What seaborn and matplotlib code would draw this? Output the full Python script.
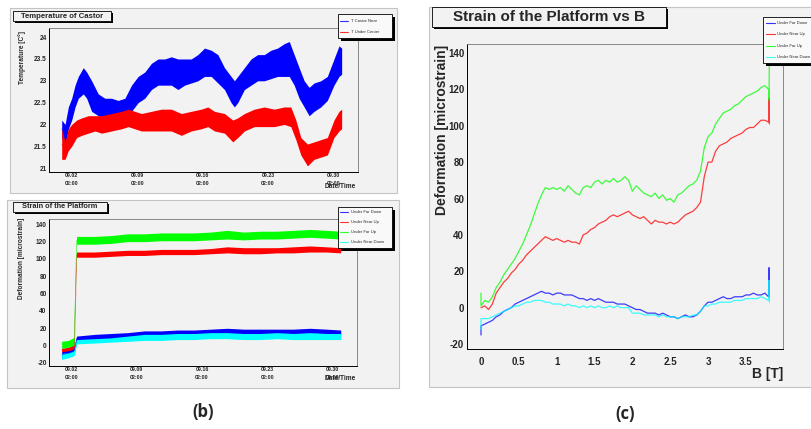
import numpy as np
import pandas as pd
import matplotlib
matplotlib.use("Agg")
import matplotlib.pyplot as plt
import seaborn as sns
from matplotlib.patches import Rectangle
from matplotlib.lines import Line2D
from matplotlib.ticker import MultipleLocator, FuncFormatter

# ---------------- data: temperature (days after 09.02 02:00) ----------------
t_days = [-1.07, -0.71, -0.36, 0.00, 0.36, 0.71, 1.24, 1.60, 2.13, 2.84, 3.55, 4.26,
          4.98, 5.69, 6.40, 7.11, 7.82, 8.53, 9.24, 9.95, 10.66, 11.37, 12.08, 12.79,
          13.50, 14.21, 14.93, 15.64, 16.35, 17.06, 17.41, 17.77, 18.48, 19.19, 19.90,
          20.61, 21.32, 22.03, 22.74, 23.28, 23.81, 24.34, 24.88, 25.41, 25.94, 26.65,
          27.36, 28.07, 28.61, 28.89]
castor_near_hi = [22.1, 22.0, 22.4, 22.6, 22.9, 23.1, 23.3, 23.2, 23.0, 22.7, 22.6, 22.6,
                  22.55, 22.6, 22.9, 23.1, 23.2, 23.4, 23.5, 23.5, 23.55, 23.5, 23.5, 23.5,
                  23.6, 23.75, 23.7, 23.6, 23.3, 23.1, 23.0, 23.1, 23.3, 23.5, 23.6,
                  23.6, 23.7, 23.75, 23.85, 23.9, 23.6, 23.3, 23.0, 22.85, 22.95, 23.0,
                  23.1, 23.5, 23.8, 23.75]
castor_near_lo = [21.7, 21.5, 21.9, 22.1, 22.4, 22.6, 22.7, 22.6, 22.3, 22.2, 22.1, 22.1,
                  22.05, 22.1, 22.3, 22.5, 22.6, 22.8, 22.9, 22.9, 22.9, 22.8, 22.9, 22.95,
                  23.0, 23.1, 23.1, 22.95, 22.8, 22.5, 22.4, 22.5, 22.8, 22.9, 23.0,
                  23.0, 23.05, 23.1, 23.1, 23.1, 22.9, 22.6, 22.4, 22.2, 22.3, 22.4,
                  22.55, 22.9, 23.1, 23.15]

r_days = [-1.07, -0.71, -0.36, 0.00, 0.53, 1.07, 1.78, 2.49, 3.20, 4.26, 5.33, 6.04,
          6.75, 7.46, 8.53, 9.60, 10.66, 11.73, 12.79, 13.86, 14.57, 15.28, 16.35,
          17.24, 17.77, 18.48, 19.55, 20.61, 21.68, 22.74, 23.45, 23.99, 24.52, 25.23,
          25.94, 26.65, 27.36, 28.07, 28.61, 28.89]
under_center_hi = [21.9, 21.6, 21.9, 22.0, 22.1, 22.15, 22.2, 22.2, 22.2, 22.25, 22.3, 22.35,
                   22.3, 22.25, 22.3, 22.35, 22.35, 22.25, 22.3, 22.35, 22.4, 22.3, 22.25,
                   22.1, 22.15, 22.25, 22.35, 22.4, 22.35, 22.4, 22.4, 22.1, 21.7, 21.55,
                   21.6, 21.65, 21.7, 22.1, 22.3, 22.35]
under_center_lo = [21.2, 21.2, 21.4, 21.5, 21.7, 21.75, 21.8, 21.85, 21.8, 21.85, 21.9, 21.95,
                   21.9, 21.85, 21.85, 21.85, 21.85, 21.75, 21.85, 21.9, 21.95, 21.85, 21.8,
                   21.6, 21.7, 21.85, 21.95, 21.95, 21.95, 22.0, 21.95, 21.65, 21.3, 21.05,
                   21.2, 21.25, 21.3, 21.7, 21.85, 21.9]

# ---------------- data: strain vs time ----------------
s_days = [-1.07, -0.36, 0.18, 0.28, 0.53, 2.49, 4.26, 6.04, 7.82, 9.60, 11.37, 13.15,
          14.93, 16.70, 18.48, 20.26, 22.03, 23.81, 25.59, 27.36, 28.89]
far_down_hi = [-6, -5, -3, -2, 11, 13, 14, 15, 17, 17, 18, 18, 19, 20, 19, 19, 19, 19, 20, 19, 18]
far_down_lo = [-15, -13, -11, -10, 5, 7, 8, 9, 11, 12, 12, 12, 13, 14, 13, 13, 13, 13, 14, 13, 12]
near_up_hi = [-3, -2, 1, 2, 108, 108, 109, 110, 110, 111, 111, 111, 112, 114, 113, 113, 113, 114, 115, 114, 113]
near_up_lo = [-7, -6, -4, -3, 102, 102, 103, 104, 104, 105, 105, 105, 106, 107, 106, 106, 107, 107, 108, 108, 107]
far_up_hi = [5, 6, 9, 10, 126, 126, 127, 129, 129, 130, 130, 130, 131, 133, 131, 132, 132, 133, 134, 133, 132]
far_up_lo = [-3, -2, 0, 1, 117, 117, 118, 120, 120, 121, 121, 121, 122, 123, 122, 123, 123, 124, 125, 124, 123]
near_down_hi = [-9, -8, -6, -5, 7, 8, 9, 11, 13, 13, 14, 14, 15, 15, 14, 14, 15, 14, 15, 14, 14]
near_down_lo = [-16, -14, -12, -11, 2, 3, 4, 5, 6, 6, 7, 7, 8, 8, 7, 7, 8, 7, 7, 7, 7]

date_ticks = [0, 7, 14, 21, 28]
date_labels = ["09.02\n02:00", "09.09\n02:00", "09.16\n02:00", "09.23\n02:00", "09.30\n02:00"]

# ---------------- data: strain vs B ----------------
B_T = [0.00, 0.00, 0.05, 0.10, 0.15, 0.20, 0.25, 0.30, 0.35, 0.40, 0.45,
       0.50, 0.55, 0.60, 0.65, 0.70, 0.75, 0.80, 0.85, 0.90, 0.95,
       1.00, 1.05, 1.10, 1.15, 1.20, 1.25, 1.30, 1.35, 1.40, 1.45,
       1.50, 1.55, 1.60, 1.65, 1.70, 1.75, 1.80, 1.85, 1.90, 1.95,
       2.00, 2.05, 2.10, 2.15, 2.20, 2.25, 2.30, 2.35, 2.40, 2.45,
       2.50, 2.55, 2.60, 2.65, 2.70, 2.75, 2.80, 2.85, 2.90, 2.95,
       3.00, 3.05, 3.10, 3.15, 3.20, 3.25, 3.30, 3.35, 3.40, 3.45,
       3.50, 3.55, 3.60, 3.65, 3.70, 3.75, 3.80, 3.805, 3.81]
b_far_down = [-15, -10, -9, -8, -7, -5, -4, -2, -1, 0, 2,
              3, 4, 5, 6, 7, 8, 9, 8, 8, 7,
              8, 8, 7, 7, 7, 6, 5, 5, 4, 5,
              4, 5, 4, 3, 3, 3, 2, 2, 2, 1,
              0, -1, -1, -2, -3, -3, -3, -4, -3, -4,
              -5, -5, -6, -5, -4, -5, -5, -4, -2, 1,
              3, 3, 4, 5, 6, 5, 5, 6, 6, 6,
              7, 7, 8, 7, 7, 8, 6, 22, 6]
b_near_up = [0, 0, 1, -1, 2, 8, 11, 14, 16, 19, 21,
             24, 26, 29, 31, 33, 35, 37, 39, 38, 37,
             38, 37, 36, 37, 36, 36, 35, 40, 41, 43,
             44, 46, 47, 48, 50, 51, 50, 51, 52, 53,
             51, 50, 49, 50, 48, 46, 48, 47, 47, 46,
             47, 46, 47, 49, 51, 52, 53, 55, 58, 72,
             80, 80, 86, 89, 90, 91, 93, 94, 95, 96,
             98, 99, 99, 101, 103, 103, 102, 115, 101]
b_far_up = [8, 1, 4, 3, 6, 11, 14, 18, 21, 24, 27,
            31, 35, 40, 45, 51, 57, 62, 66, 65, 66,
            65, 66, 64, 67, 65, 63, 62, 66, 67, 66,
            69, 70, 68, 70, 69, 71, 69, 70, 72, 70,
            64, 67, 65, 63, 62, 61, 63, 60, 62, 59,
            60, 58, 62, 63, 65, 67, 68, 70, 75, 88,
            94, 96, 101, 104, 107, 108, 109, 111, 112, 114,
            116, 117, 118, 119, 121, 122, 120, 114, 138]
b_near_down = [-12, -6, -6, -6, -5, -4, -3, -2, -1, 0, 1,
               1, 2, 3, 3, 4, 4, 4, 3, 3, 2,
               2, 2, 1, 2, 1, 1, 0, 1, 0, 1,
               0, 1, 0, 0, 1, 0, 1, 0, 0, 0,
               -3, -3, -3, -4, -4, -4, -4, -5, -4, -5,
               -5, -5, -6, -5, -5, -5, -4, -4, -2, 1,
               1, 2, 2, 3, 3, 3, 3, 4, 4, 4,
               5, 5, 5, 5, 6, 5, 4, 15, 3]

strain_labels = ["Under Far Down", "Under Near Up", "Under Far Up", "Under Near Down"]
strain_colors = ["#0000ff", "#ff0000", "#00ff00", "#00ffff"]
temp_labels = ["T Castor Near", "T Under Center"]
temp_colors = ["#0000ff", "#ff0000"]

# ---------------- style ----------------
sns.set_theme(style="white")
plt.rcParams["font.family"] = ["Liberation Sans", "DejaVu Sans"]
plt.rcParams["font.weight"] = "bold"
plt.rcParams["axes.unicode_minus"] = False

BG = "#f2f2f2"
W, H = 811, 429
fig = plt.figure(figsize=(W / 100, H / 100), dpi=100)
fig.patch.set_facecolor("white")


def fx(x):
    return x / W


def fy(y):
    return 1 - y / H


def rect(x0, y0, x1, y1, fc, ec, lw=0.8, z=-5):
    r = Rectangle((fx(x0), fy(y1)), (x1 - x0) / W, (y1 - y0) / H,
                  transform=fig.transFigure, facecolor=fc, edgecolor=ec,
                  linewidth=lw, zorder=z)
    fig.add_artist(r)


def title_box(x0, y0, x1, y1, text, fs, sh=2):
    rect(x0 + sh, y0 + sh, x1 + sh, y1 + sh, "black", "black", lw=0, z=5)
    rect(x0, y0, x1, y1, BG, "black", lw=0.6, z=6)
    fig.text(fx((x0 + x1) / 2), fy((y0 + y1) / 2), text, ha="center", va="center",
             fontsize=fs, fontweight="bold", zorder=7)


def root_legend(x0, y0, x1, y1, colors, labels, ys, lx0, lx1, tx, fs):
    rect(x0 + 3, y0 + 3, x1 + 3, y1 + 3, "black", "black", lw=0, z=8)
    rect(x0, y0, x1, y1, "#f9f9f9", "black", lw=0.6, z=9)
    for c, l, y in zip(colors, labels, ys):
        fig.add_artist(Line2D([fx(lx0), fx(lx1)], [fy(y), fy(y)], transform=fig.transFigure,
                              color=c, lw=0.8, alpha=0.8, zorder=10))
        fig.text(fx(tx), fy(y), l, fontsize=fs, ha="left", va="center",
                 fontweight="normal", zorder=10)


def band(ax, days, hi, lo, color):
    df = pd.DataFrame({"day": list(days) + list(days), "v": list(hi) + list(lo)})
    sns.lineplot(data=df, x="day", y="v", ax=ax, color=color, estimator="mean",
                 errorbar=("pi", 100), err_kws={"alpha": 1.0, "linewidth": 0},
                 linewidth=0.3)


def style_axes(ax, xlim, ylim):
    ax.set_facecolor(BG)
    ax.set_xlim(*xlim)
    ax.set_ylim(*ylim)
    ax.set_xlabel("")
    ax.set_ylabel("")
    for s in ["top", "right"]:
        ax.spines[s].set_color("#777777")
        ax.spines[s].set_linewidth(0.6)
    for s in ["left", "bottom"]:
        ax.spines[s].set_color("black")
        ax.spines[s].set_linewidth(0.7)


fmt = FuncFormatter(lambda v, p: f"{v:g}")

# ---------------- outer panels ----------------
rect(10, 8, 397, 193, BG, "#c4c4c4")
rect(7, 200, 399, 388, BG, "#c4c4c4")
rect(429, 7, 815, 387, BG, "#c4c4c4")

# ---------------- (b) top: temperature ----------------
ax1 = fig.add_axes([fx(49), fy(172), 309 / W, 144 / H])
band(ax1, t_days, castor_near_hi, castor_near_lo, temp_colors[0])
band(ax1, r_days, under_center_hi, under_center_lo, temp_colors[1])
style_axes(ax1, (-2.43, 30.64), (20.91, 24.21))
ax1.yaxis.set_major_locator(MultipleLocator(0.5))
ax1.yaxis.set_minor_locator(MultipleLocator(0.1))
ax1.yaxis.set_major_formatter(fmt)
ax1.set_xticks(date_ticks, date_labels, fontsize=3.8, fontweight="bold", linespacing=1.7)
ax1.xaxis.set_minor_locator(MultipleLocator(1))
ax1.tick_params(axis="y", which="major", direction="in", length=5.5, width=0.5, labelsize=4.7, pad=1.7)
ax1.tick_params(axis="y", which="minor", direction="in", length=2.8, width=0.4)
ax1.tick_params(axis="x", which="major", direction="in", length=3, width=0.5, pad=0.8)
ax1.tick_params(axis="x", which="minor", direction="in", length=1.5, width=0.4)

fig.text(fx(22), fy(31), "Temperature [C°]", rotation=90, ha="center", va="top",
         fontsize=4.7, fontweight="bold")
fig.text(fx(356), fy(186), "Date/Time", ha="right", va="center", fontsize=4.7, fontweight="bold")
title_box(13, 11, 111, 21, "Temperature of Castor", 5.6)
root_legend(338, 14, 392, 38, temp_colors, temp_labels, [20.7, 32.3], 340, 348, 351, 3.0)

# ---------------- (b) bottom: strain vs time ----------------
ax2 = fig.add_axes([fx(49), fy(366), 308 / W, 147 / H])
for hi, lo, c in zip([far_down_hi, near_up_hi, far_up_hi, near_down_hi],
                     [far_down_lo, near_up_lo, far_up_lo, near_down_lo], strain_colors):
    band(ax2, s_days, hi, lo, c)
style_axes(ax2, (-2.43, 30.64), (-23.5, 146.1))
ax2.yaxis.set_major_locator(MultipleLocator(20))
ax2.yaxis.set_minor_locator(MultipleLocator(5))
ax2.yaxis.set_major_formatter(fmt)
ax2.set_xticks(date_ticks, date_labels, fontsize=3.8, fontweight="bold", linespacing=1.7)
ax2.xaxis.set_minor_locator(MultipleLocator(1))
ax2.tick_params(axis="y", which="major", direction="in", length=5.5, width=0.5, labelsize=4.7, pad=1.7)
ax2.tick_params(axis="y", which="minor", direction="in", length=2.8, width=0.4)
ax2.tick_params(axis="x", which="major", direction="in", length=3, width=0.5, pad=0.8)
ax2.tick_params(axis="x", which="minor", direction="in", length=1.5, width=0.4)

fig.text(fx(22), fy(218), "Deformation [microstrain]", rotation=90, ha="center", va="top",
         fontsize=4.7, fontweight="bold")
fig.text(fx(356), fy(378), "Date/Time", ha="right", va="center", fontsize=4.7, fontweight="bold")
title_box(13, 202, 107, 212, "Strain of the Platform", 5.3)
root_legend(338, 207, 392, 248, strain_colors, strain_labels, [212, 222, 232, 242], 340, 348, 351, 3.0)

# ---------------- (c): strain vs B ----------------
ax3 = fig.add_axes([fx(467), fy(349), 316 / W, 305 / H])
for y, c in zip([b_far_down, b_near_up, b_far_up, b_near_down], strain_colors):
    sns.lineplot(x=B_T, y=y, ax=ax3, color=c, estimator=None, sort=False,
                 linewidth=0.9, alpha=0.75)
style_axes(ax3, (-0.185, 3.99), (-22.7, 144.9))
ax3.xaxis.set_major_locator(MultipleLocator(0.5))
ax3.xaxis.set_minor_locator(MultipleLocator(0.1))
ax3.yaxis.set_major_locator(MultipleLocator(20))
ax3.yaxis.set_minor_locator(MultipleLocator(5))
ax3.xaxis.set_major_formatter(fmt)
ax3.yaxis.set_major_formatter(fmt)
ax3.tick_params(which="major", direction="in", length=6.5, width=0.6, labelsize=7)
ax3.tick_params(which="minor", direction="in", length=3.3, width=0.5)
ax3.tick_params(axis="x", which="major", pad=6)
ax3.tick_params(axis="y", which="major", pad=2)

fig.text(fx(442), fy(45), "Deformation [microstrain]", rotation=90, ha="center", va="top",
         fontsize=10, fontweight="bold")
fig.text(fx(783), fy(374), "B [T]", ha="right", va="center", fontsize=10, fontweight="bold")
title_box(432, 7, 666, 27, "Strain of the Platform vs B", 11)
root_legend(763, 17, 830, 63, strain_colors, strain_labels, [23, 34, 45.5, 57], 766, 775, 777, 3.0)

# ---------------- panel letters ----------------
fig.text(fx(203), fy(412), "(b)", ha="center", va="center", fontsize=12,
         fontweight="bold", family=["Open Sans", "DejaVu Sans"])
fig.text(fx(625), fy(414), "(c)", ha="center", va="center", fontsize=12,
         fontweight="bold", family=["Open Sans", "DejaVu Sans"])

fig.savefig("out.png", dpi=100, facecolor="white")
